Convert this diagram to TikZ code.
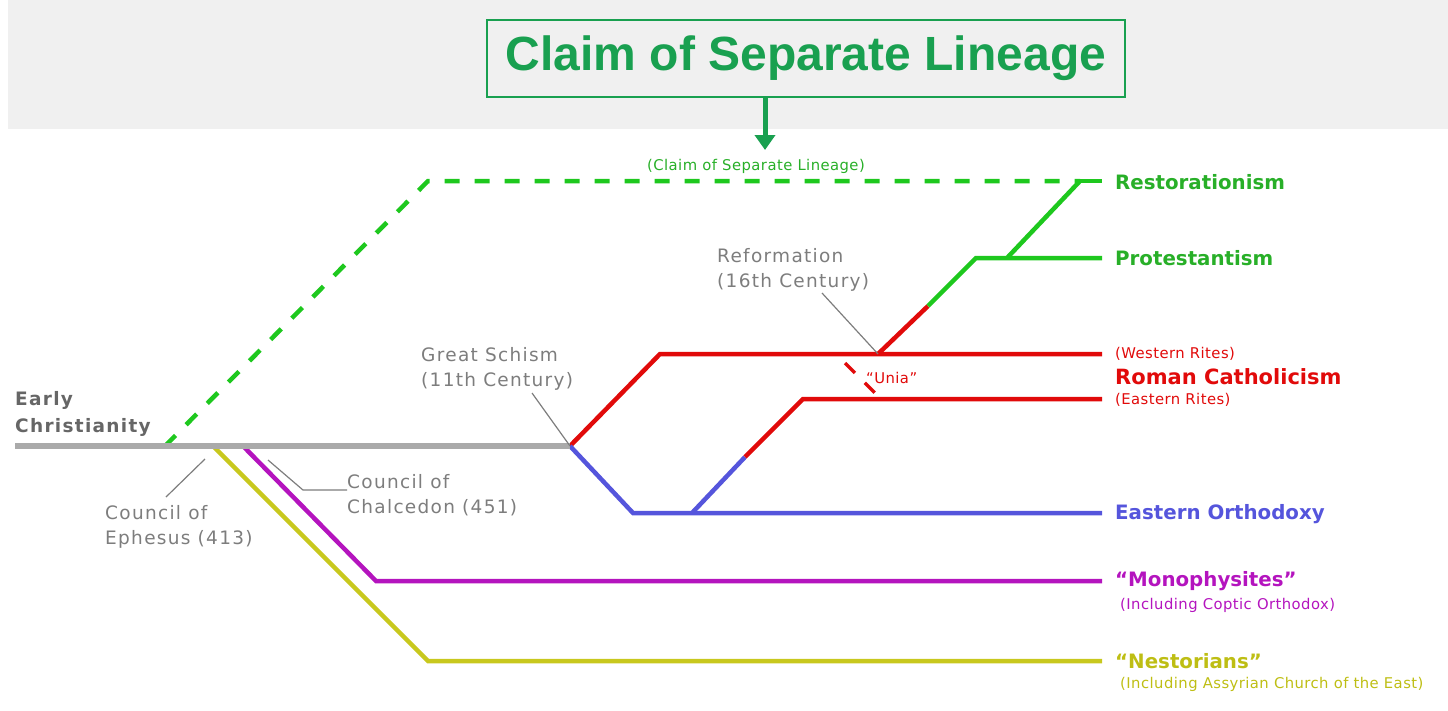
\documentclass[tikz,border=0pt]{standalone}
\usepackage{fontspec}
\setmainfont{DejaVu Sans}
\newfontfamily\titlefont{Liberation Sans}
\newfontfamily\notefont[LetterSpace=7,Ligatures=TeX]{DejaVu Sans}
\newfontfamily\subfont[LetterSpace=3,Ligatures=TeX]{DejaVu Sans}
\usepackage{tikz}
\usetikzlibrary{arrows.meta}

\definecolor{headgray}{RGB}{240,240,240}
\definecolor{mainline}{RGB}{170,170,170}
\definecolor{notegray}{RGB}{125,125,125}
\definecolor{titlegreen}{RGB}{25,160,80}
\definecolor{grn}{RGB}{30,200,30}
\definecolor{grntext}{RGB}{40,175,40}
\definecolor{rd}{RGB}{225,10,10}
\definecolor{bl}{RGB}{85,85,220}
\definecolor{mg}{RGB}{180,20,190}
\definecolor{ol}{RGB}{200,200,30}
\definecolor{oltext}{RGB}{190,190,20}

\begin{document}
\begin{tikzpicture}[x=1pt,y=-1pt,
    branch/.style={line width=4.5pt,line cap=butt,line join=miter},
    sep/.style={branch,dash pattern=on 15pt off 15pt},
    lbl/.style={anchor=west,inner sep=0pt,font=\bfseries\fontsize{19.8}{22}\selectfont},
    sub/.style={anchor=west,inner sep=0pt,font=\subfont\fontsize{14.8}{16}\selectfont},
    note/.style={anchor=west,inner sep=0pt,align=left,text=notegray,
      font=\notefont\fontsize{18.5}{24.5}\selectfont},
    lead/.style={notegray,line width=1.2pt}]
  \useasboundingbox (0,0) rectangle (1448,710);
  \fill[headgray] (8,0) rectangle (1448,129);

  % title box and arrow
  \node[draw=titlegreen,line width=1.2pt,fill=headgray,minimum width=638pt,
    minimum height=77pt,text=titlegreen,font=\titlefont\bfseries\fontsize{48}{50}\selectfont]
    (title) at (806,58.5) {Claim of Separate Lineage};
  \coordinate (arrtip) at (765,150);
  \draw[titlegreen,line width=5pt,-{Triangle[width=20pt,length=15pt]}]
    (title.south -| arrtip) -- (arrtip);

  % junctions
  \coordinate (ec) at (15,446);   \coordinate (gs) at (570,446);
  \coordinate (g0) at (165,446);  \coordinate (g1) at (428,181);
  \coordinate (rj) at (1080,181); \coordinate (re) at (1102,181);
  \coordinate (w1) at (660,354);  \coordinate (we) at (1102,354);
  \coordinate (rf) at (878,354);  \coordinate (rg) at (928,306);
  \coordinate (p1) at (976,258);  \coordinate (pj) at (1007,258);
  \coordinate (pe) at (1102,258);
  \coordinate (b1) at (633,513);  \coordinate (be) at (1102,513);
  \coordinate (bj) at (692,513);  \coordinate (bm) at (745,457);
  \coordinate (e1) at (803,399);  \coordinate (ee) at (1102,399);
  \coordinate (mj) at (243,446);  \coordinate (m1) at (376,581);
  \coordinate (me) at (1102,581);
  \coordinate (nj) at (213,446);  \coordinate (n1) at (428,661);
  \coordinate (ne) at (1102,661);
  \coordinate (u1) at (845,363);  \coordinate (u2) at (875,393);

  % branches
  \draw[sep,grn] (g0) -- (g1) -- (rj);
  \draw[branch,grn] (rj) -- (re);
  \draw[branch,rd] (gs) -- (w1) -- (we);
  \draw[branch,rd] (rf) -- (rg);
  \draw[branch,grn] (rg) -- (p1) -- (pe);
  \draw[branch,grn] (pj) -- (rj);
  \draw[branch,bl] (gs) -- (b1) -- (be);
  \draw[branch,bl] (bj) -- (bm);
  \draw[branch,rd] (bm) -- (e1) -- (ee);
  \draw[branch,mg] (mj) -- (m1) -- (me);
  \draw[branch,ol] (nj) -- (n1) -- (ne);
  \draw[rd,line width=3.5pt,dash pattern=on 14pt off 14pt] (u1) -- (u2);
  \draw[mainline,line width=6pt] (ec) -- (gs);

  % labels on the right
  \node[lbl,text=grntext] (restor) at (1115,182) {Restorationism};
  \node[lbl,text=grntext] (protest) at (1115,258) {Protestantism};
  \node[sub,text=rd] (west) at (1115,354) {(Western Rites)};
  \node[lbl,text=rd,font=\bfseries\fontsize{21}{24}\selectfont] (rc) at (1115,377) {Roman Catholicism};
  \node[sub,text=rd] (east) at (1115,400) {(Eastern Rites)};
  \node[lbl,text=bl] (orth) at (1115,514) {Eastern Orthodoxy};
  \node[lbl,text=mg] (mono) at (1115,581) {“Monophysites”};
  \node[sub,text=mg] (monosub) at (1120,605) {(Including Coptic Orthodox)};
  \node[lbl,text=oltext] (nest) at (1115,661) {“Nestorians”};
  \node[sub,text=oltext] (nestsub) at (1120,684) {(Including Assyrian Church of the East)};
  \node[sub,text=grntext,anchor=center] (claim) at (756,166) {(Claim of Separate Lineage)};
  \node[sub,text=rd] (unia) at (866,378) {“Unia”};

  % notes
  \node[anchor=west,inner sep=0pt,align=left,text=gray!80!black,
    font=\notefont\bfseries\fontsize{18.5}{27}\selectfont] (early) at (15,414) {Early\\Christianity};
  \node[note] (schism) at (421,369) {Great Schism\\(11th Century)};
  \node[note] (reform) at (717,270) {Reformation\\(16th Century)};
  \node[note] (ephesus) at (105,527) {Council of\\Ephesus (413)};
  \node[note] (chalc) at (347,495) {Council of\\Chalcedon (451)};
  \coordinate (sl) at (532,393);  \coordinate (rl) at (822,293);
  \coordinate (el) at (166,497);  \coordinate (cl) at (268,460);
  \coordinate (ck) at (303,490);
  \draw[lead] (sl) -- (gs);
  \draw[lead] (rl) -- (rf);
  \draw[lead] (el) -- (205,459);
  \draw[lead] (cl) -- (ck) -- (chalc.west |- ck);
\end{tikzpicture}
\end{document}
